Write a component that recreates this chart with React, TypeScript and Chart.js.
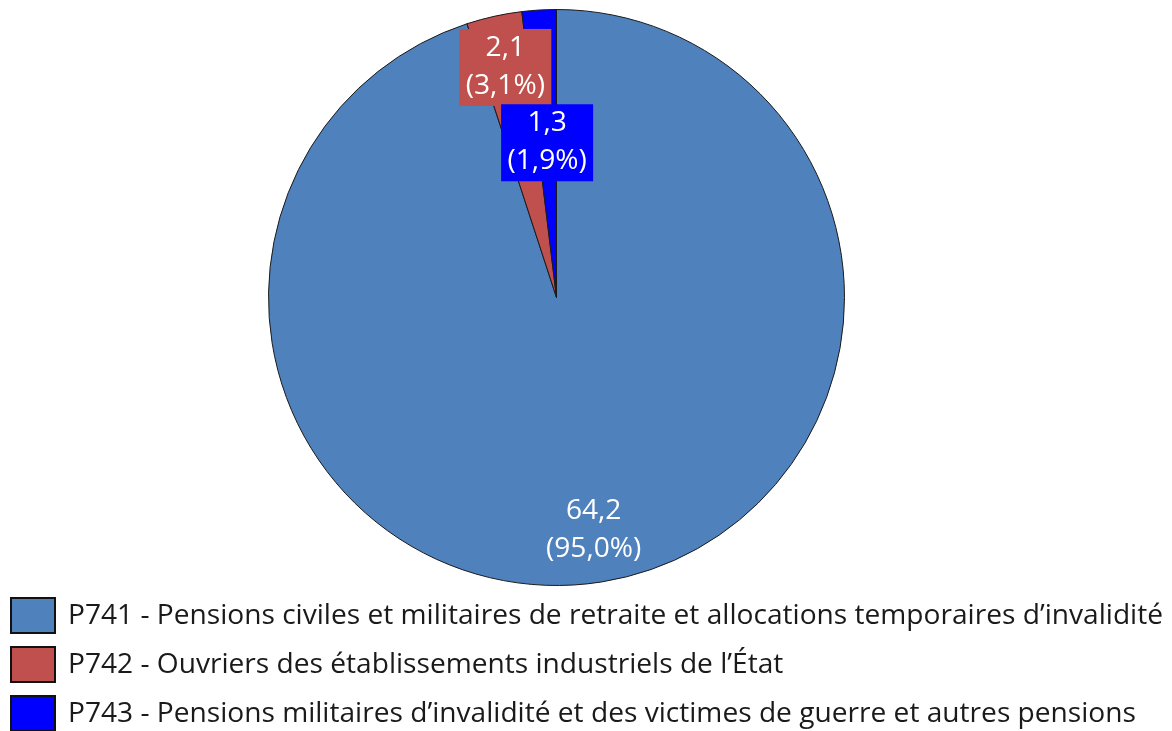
import React, { useEffect, useRef } from "react";
import { Chart, registerables } from "chart.js";

Chart.register(...registerables);

const categories = [
  "P741 - Pensions civiles et militaires de retraite et allocations temporaires d\u2019invalidit\u00e9",
  "P742 - Ouvriers des \u00e9tablissements industriels de l\u2019\u00c9tat",
  "P743 - Pensions militaires d\u2019invalidit\u00e9 et des victimes de guerre et autres pensions",
];
const values = [64.2, 2.1, 1.3];
const valueLabels = ["64,2", "2,1", "1,3"];
const percentLabels = ["(95,0%)", "(3,1%)", "(1,9%)"];

const colors = ["#4F81BD", "#C0504D", "#0000FF"];
const labelRadiusFraction = [0.82, 0.82, 0.54];
const labelHasBox = [false, true, true];
const FONT = "'Open Sans', Lato, sans-serif";
const FONT_SIZE = 27;
const LEGEND_TARGET_WIDTH = 1095;

function textScale(ctx: CanvasRenderingContext2D): number {
  ctx.save();
  ctx.font = `${FONT_SIZE}px ${FONT}`;
  const w = ctx.measureText(categories[0]).width;
  ctx.restore();
  return w > 0 ? LEGEND_TARGET_WIDTH / w : 1;
}

const labelPlugin = {
  id: "sliceLabels",
  afterDatasetsDraw(chart: any) {
    const ctx = chart.ctx;
    const sx = textScale(ctx);
    const meta = chart.getDatasetMeta(0);
    ctx.save();
    ctx.font = `${FONT_SIZE}px ${FONT}`;
    ctx.textAlign = "center";
    ctx.textBaseline = "middle";
    meta.data.forEach((arc: any, i: number) => {
      const { x, y, startAngle, endAngle, outerRadius } = arc.getProps(
        ["x", "y", "startAngle", "endAngle", "outerRadius"],
        true
      );
      const mid = (startAngle + endAngle) / 2;
      const r = outerRadius * labelRadiusFraction[i];
      const cx = x + Math.cos(mid) * r;
      const cy = y + Math.sin(mid) * r;
      if (labelHasBox[i]) {
        ctx.fillStyle = colors[i];
        ctx.fillRect(cx - 46, cy - 38, 92, 77);
      }
      ctx.fillStyle = "#FFFFFF";
      [valueLabels[i], percentLabels[i]].forEach((t, k) => {
        ctx.save();
        ctx.translate(cx, cy + (k === 0 ? -19 : 19));
        ctx.scale(sx, 1);
        ctx.fillText(t, 0, 0);
        ctx.restore();
      });
    });
    ctx.restore();
  },
};

const legendPlugin = {
  id: "customLegend",
  afterDraw(chart: any) {
    const ctx = chart.ctx;
    const sx = textScale(ctx);
    ctx.save();
    ctx.font = `${FONT_SIZE}px ${FONT}`;
    ctx.textAlign = "left";
    ctx.textBaseline = "middle";
    const labels = chart.data.labels as string[];
    const bg = chart.data.datasets[0].backgroundColor as string[];
    labels.forEach((lab, i) => {
      const top = 598 + i * 49;
      ctx.fillStyle = bg[i];
      ctx.fillRect(11, top, 44, 35);
      ctx.lineWidth = 2;
      ctx.strokeStyle = "#111111";
      ctx.strokeRect(11, top, 44, 35);
      ctx.fillStyle = "#1A1A1A";
      ctx.save();
      ctx.translate(68, top + 18);
      ctx.scale(sx, 1);
      ctx.fillText(lab, 0, 0);
      ctx.restore();
    });
    ctx.restore();
  },
};

export default function App() {
  const ref = useRef<HTMLCanvasElement | null>(null);
  useEffect(() => {
    if (!ref.current) return;
    const chart = new Chart(ref.current, {
      type: "pie",
      data: {
        labels: categories,
        datasets: [
          {
            data: values,
            backgroundColor: colors,
            borderColor: "#1A1A1A",
            borderWidth: 1,
          },
        ],
      },
      options: {
        animation: false,
        responsive: false,
        maintainAspectRatio: false,
        layout: { padding: { left: 268, right: 327, top: 9, bottom: 145 } },
        plugins: {
          legend: { display: false },
          tooltip: { enabled: false },
        },
      },
      plugins: [labelPlugin, legendPlugin],
    });
    return () => chart.destroy();
  }, []);
  return (
    <div style={{ position: "fixed", left: 0, top: 0, width: 1172, height: 731, background: "#fff" }}>
      <canvas ref={ref} width={1172} height={731} style={{ width: 1172, height: 731 }} />
    </div>
  );
}
